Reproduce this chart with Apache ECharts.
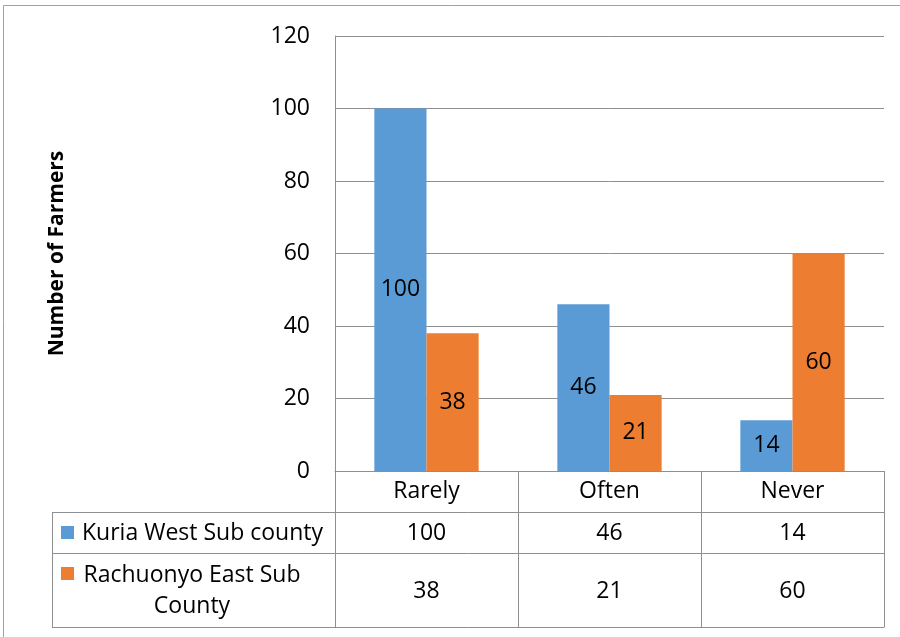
<!DOCTYPE html>
<html>
<head>
<meta charset="utf-8">
<script src="https://cdn.jsdelivr.net/npm/echarts@6/dist/echarts.min.js"></script>
<style>
  html, body { margin: 0; padding: 0; background: #fff; }
  #chart { width: 900px; height: 637px; }
</style>
</head>
<body>
<div id="chart"></div>
<script>
// Frequency categories and number of farmers per sub county
const categories = ['Rarely', 'Often', 'Never'];
const seriesNames = ['Kuria West Sub county', 'Rachuonyo East Sub\nCounty'];
const kuriaWest = [100, 46, 14];
const rachuonyoEast = [38, 21, 60];
const yTicks = [0, 20, 40, 60, 80, 100, 120];

const FONT = '"Open Sans", "Noto Sans", sans-serif';
const FS = 23;
const BLUE = '#5B9BD5';
const ORANGE = '#ED7D31';
const LINE = '#8f8f8f';

// plot area and data table geometry
const gridLeft = 335, gridRight = 884, gridTop = 36, gridBottom = 471;
const tableLeft = 52;
const rowLines = [512, 553, 627];

const chart = echarts.init(document.getElementById('chart'), null, { renderer: 'canvas' });

const valueLabel = {
  show: true,
  position: 'inside',
  color: '#000',
  fontFamily: FONT,
  fontSize: FS
};

chart.setOption({
  animation: false,
  backgroundColor: '#fff',
  grid: {
    left: gridLeft,
    right: 900 - gridRight,
    top: gridTop,
    bottom: 637 - gridBottom,
    containLabel: false
  },
  xAxis: {
    type: 'category',
    data: categories,
    axisLine: { show: true, lineStyle: { color: LINE, width: 1 } },
    axisTick: {
      show: true,
      interval: 0,
      length: rowLines[2] - gridBottom,
      lineStyle: { color: LINE, width: 1 }
    },
    axisLabel: {
      color: '#000',
      fontFamily: FONT,
      fontSize: FS,
      margin: 9
    },
    z: 3
  },
  yAxis: {
    type: 'value',
    min: yTicks[0],
    max: yTicks[yTicks.length - 1],
    interval: yTicks[1] - yTicks[0],
    name: 'Number of Farmers',
    nameLocation: 'middle',
    nameGap: 267,
    nameRotate: 90,
    nameTextStyle: {
      color: '#000',
      fontFamily: FONT,
      fontSize: 21,
      fontWeight: 'bold'
    },
    axisLine: { show: true, lineStyle: { color: LINE, width: 1 } },
    axisTick: { show: false },
    axisLabel: {
      color: '#000',
      fontFamily: FONT,
      fontSize: FS,
      margin: 25
    },
    splitLine: { show: true, lineStyle: { color: LINE, width: 1 } }
  },
  series: [
    {
      name: seriesNames[0],
      type: 'bar',
      data: kuriaWest,
      itemStyle: { color: BLUE },
      barGap: '0%',
      barCategoryGap: '43%',
      label: valueLabel
    },
    {
      name: seriesNames[1],
      type: 'bar',
      data: rachuonyoEast,
      itemStyle: { color: ORANGE },
      barGap: '0%',
      barCategoryGap: '43%',
      label: valueLabel
    }
  ]
});

// Data table beneath the category axis
function buildTable() {
  const els = [];
  // outer chart frame
  els.push({
    type: 'rect',
    shape: { x: 3.5, y: 5.5, width: 920, height: 660 },
    style: { fill: null, stroke: '#a0a0a0', lineWidth: 1 },
    silent: true
  });
  // horizontal rules of the table
  rowLines.forEach(y => {
    els.push({
      type: 'line',
      shape: { x1: tableLeft, y1: y + 0.5, x2: gridRight + 0.5, y2: y + 0.5 },
      style: { stroke: LINE, lineWidth: 1 },
      silent: true
    });
  });
  // left edge of the series-name column
  els.push({
    type: 'line',
    shape: { x1: tableLeft + 0.5, y1: rowLines[0], x2: tableLeft + 0.5, y2: rowLines[2] + 1 },
    style: { stroke: LINE, lineWidth: 1 },
    silent: true
  });

  const rows = [
    { values: kuriaWest, color: BLUE, top: rowLines[0], bottom: rowLines[1] },
    { values: rachuonyoEast, color: ORANGE, top: rowLines[1], bottom: rowLines[2] }
  ];
  const nameCx = 192;
  rows.forEach((row, i) => {
    const cy = (row.top + row.bottom) / 2 + 1;
    // legend key
    els.push({
      type: 'rect',
      shape: { x: 61, y: row.top + 14, width: 13, height: 13 },
      style: { fill: row.color },
      silent: true
    });
    // series name
    els.push({
      type: 'text',
      x: i === 0 ? 82 : nameCx,
      y: cy,
      style: {
        text: seriesNames[i],
        fontFamily: FONT,
        fontSize: FS,
        fill: '#000',
        align: i === 0 ? 'left' : 'center',
        verticalAlign: 'middle',
        lineHeight: 31
      },
      silent: true
    });
    // values under each category
    row.values.forEach((v, j) => {
      const px = chart.convertToPixel({ xAxisIndex: 0 }, categories[j]);
      els.push({
        type: 'text',
        x: px,
        y: cy,
        style: {
          text: String(v),
          fontFamily: FONT,
          fontSize: FS,
          fill: '#000',
          align: 'center',
          verticalAlign: 'middle'
        },
        silent: true
      });
    });
  });
  chart.setOption({ graphic: { elements: els } });
}
buildTable();
</script>
</body>
</html>
